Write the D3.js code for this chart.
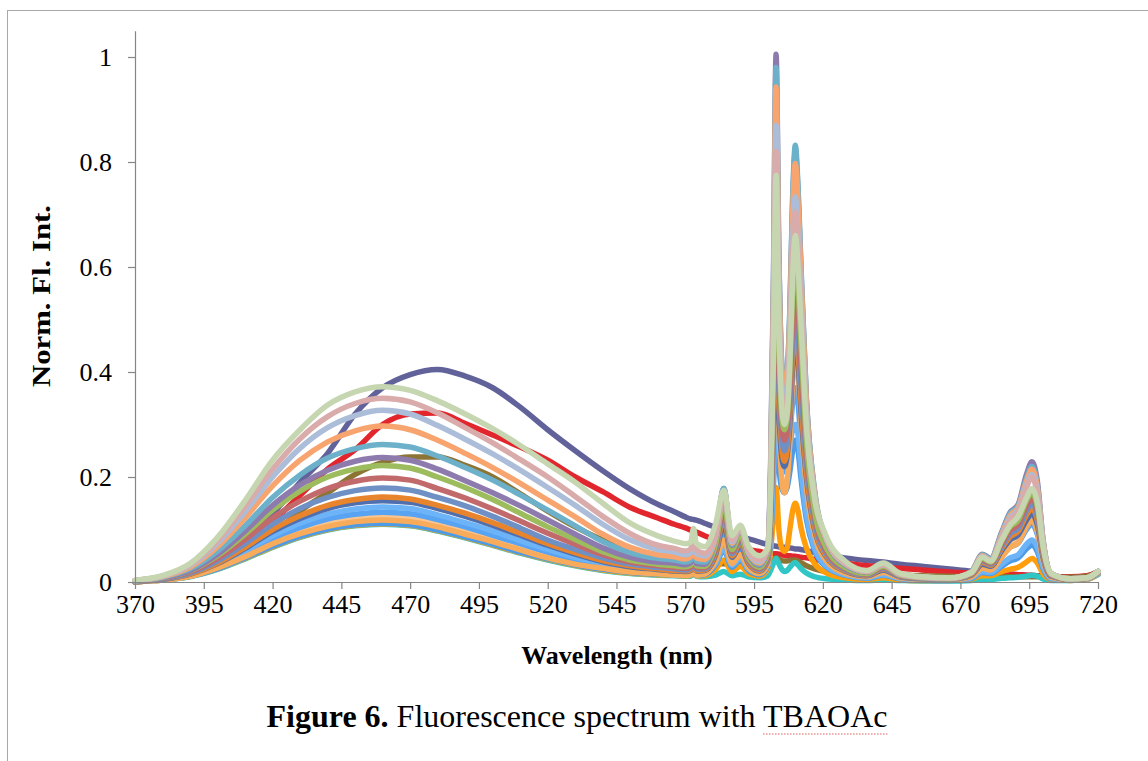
<!DOCTYPE html>
<html><head><meta charset="utf-8">
<script src="https://cdn.jsdelivr.net/npm/d3@7"></script>
<style>
html,body{margin:0;padding:0;background:#fff;}
svg{display:block;}
text{font-family:"Liberation Serif","Times New Roman",serif;fill:#000;}
</style></head>
<body>
<svg id="chart" width="1148" height="761"></svg>
<script>
// ---- data ----
const wavelengths = [370,380,390,400,410,420,430,440,450,460,470,480,490,500,510,520,530,540,550,560,
 566,570,572,573,574,577,581,584,587,590,593,597,600,601,602,603,604,605,606,607,608,609,610,611,612,614,617,621,628,636,642,648,656,666,674,678,681,685,688,691,694,696,698,700,703,710,716,720];

const xTicks = [370,395,420,445,470,495,520,545,570,595,620,645,670,695,720];
const yTicks = [0,0.2,0.4,0.6,0.8,1];

const slate = [0,0.008,0.022,0.045,0.08,0.13,0.19,0.245,0.32,0.37,0.395,0.405,0.392,0.37,0.333,0.29,0.25,0.212,0.177,0.148,
 0.134,0.124,0.12,0.119,0.118,0.112,0.104,0.097,0.09,0.086,0.082,0.076,0.071,0.07,0.069,0.068,0.067,0.066,0.066,0.065,0.065,0.064,0.063,0.063,0.062,0.06,0.056,0.052,0.046,0.041,0.038,0.034,0.03,0.025,0.021,0.02,0.018,0.016,0.015,0.014,0.013,0.012,0.011,0.011,0.01,0.009,0.011,0.02];
const red = [0,0.006,0.018,0.04,0.07,0.115,0.165,0.215,0.252,0.3,0.32,0.322,0.302,0.28,0.257,0.232,0.2,0.172,0.142,0.122,
 0.11,0.103,0.099,0.097,0.095,0.088,0.08,0.075,0.071,0.067,0.062,0.058,0.055,0.055,0.054,0.054,0.053,0.052,0.051,0.05,0.05,0.049,0.049,0.048,0.047,0.046,0.043,0.04,0.036,0.031,0.029,0.026,0.023,0.019,0.017,0.016,0.016,0.015,0.015,0.014,0.013,0.013,0.012,0.012,0.011,0.01,0.012,0.019];
const olive = [0,0.005,0.014,0.03,0.055,0.09,0.135,0.17,0.205,0.228,0.238,0.238,0.222,0.2,0.168,0.135,0.105,0.08,0.06,0.046,
 0.042,0.039,0.038,0.038,0.037,0.036,0.035,0.035,0.034,0.034,0.034,0.033,0.033,0.036,0.042,0.046,0.044,0.041,0.04,0.04,0.041,0.042,0.042,0.04,0.037,0.031,0.025,0.02,0.018,0.016,0.016,0.014,0.012,0.011,0.01,0.01,0.01,0.01,0.01,0.01,0.01,0.01,0.01,0.01,0.009,0.009,0.011,0.018];
const turquoise = [0.001,0.004,0.01,0.024,0.044,0.066,0.085,0.099,0.107,0.11,0.107,0.097,0.084,0.07,0.055,0.042,0.031,0.022,0.016,0.013,
 0.012,0.011,0.011,0.017,0.011,0.01,0.013,0.02,0.012,0.015,0.01,0.008,0.012,0.022,0.035,0.045,0.035,0.025,0.02,0.022,0.028,0.034,0.037,0.032,0.026,0.017,0.01,0.006,0.004,0.003,0.004,0.003,0.002,0.002,0.003,0.005,0.005,0.007,0.008,0.009,0.011,0.013,0.011,0.006,0.003,0.003,0.005,0.014];
const brightOrange = [0.001,0.004,0.011,0.025,0.045,0.067,0.086,0.1,0.108,0.111,0.108,0.098,0.085,0.071,0.056,0.043,0.032,0.023,0.017,0.014,
 0.013,0.012,0.013,0.024,0.012,0.012,0.024,0.042,0.02,0.03,0.016,0.011,0.025,0.06,0.12,0.18,0.1,0.065,0.058,0.065,0.1,0.135,0.15,0.135,0.105,0.065,0.035,0.018,0.008,0.005,0.008,0.004,0.003,0.003,0.006,0.012,0.012,0.02,0.024,0.028,0.038,0.045,0.036,0.016,0.005,0.003,0.005,0.015];
const lowBlue = [0.001,0.004,0.011,0.025,0.046,0.068,0.087,0.101,0.109,0.112,0.109,0.099,0.086,0.072,0.057,0.044,0.033,0.024,0.018,0.015,
 0.014,0.013,0.014,0.032,0.013,0.014,0.032,0.06,0.028,0.042,0.022,0.014,0.03,0.08,0.18,0.3,0.22,0.18,0.17,0.18,0.21,0.25,0.27,0.25,0.2,0.12,0.06,0.03,0.013,0.007,0.013,0.006,0.004,0.003,0.007,0.018,0.016,0.03,0.04,0.046,0.063,0.07,0.057,0.026,0.006,0.004,0.006,0.016];
const peach = [0.001,0.004,0.012,0.028,0.051,0.076,0.097,0.112,0.12,0.124,0.121,0.11,0.096,0.081,0.064,0.048,0.036,0.027,0.02,0.016,
 0.014,0.013,0.015,0.05,0.014,0.016,0.05,0.1,0.044,0.066,0.032,0.018,0.04,0.12,0.3,0.55,0.4,0.34,0.33,0.35,0.41,0.47,0.5,0.46,0.36,0.2,0.1,0.048,0.02,0.011,0.021,0.009,0.006,0.004,0.012,0.032,0.028,0.056,0.075,0.085,0.115,0.13,0.105,0.046,0.01,0.004,0.006,0.017];
const blue = [0.001,0.005,0.013,0.03,0.055,0.082,0.104,0.12,0.129,0.133,0.13,0.119,0.105,0.089,0.073,0.057,0.043,0.032,0.024,0.019,
 0.017,0.016,0.018,0.045,0.017,0.019,0.045,0.09,0.04,0.06,0.03,0.018,0.037,0.1,0.24,0.4,0.29,0.23,0.21,0.22,0.28,0.34,0.37,0.34,0.27,0.16,0.08,0.04,0.017,0.01,0.019,0.008,0.005,0.004,0.011,0.028,0.025,0.05,0.066,0.074,0.1,0.11,0.09,0.04,0.009,0.004,0.006,0.017];
const lightBlue = [0.001,0.005,0.014,0.032,0.059,0.088,0.112,0.129,0.139,0.143,0.14,0.128,0.113,0.097,0.079,0.062,0.047,0.035,0.026,0.021,
 0.019,0.018,0.019,0.035,0.018,0.02,0.035,0.065,0.032,0.045,0.025,0.018,0.032,0.09,0.2,0.34,0.28,0.24,0.23,0.235,0.26,0.29,0.3,0.28,0.22,0.13,0.065,0.032,0.014,0.008,0.014,0.007,0.004,0.003,0.008,0.02,0.018,0.034,0.046,0.052,0.072,0.08,0.065,0.03,0.007,0.004,0.006,0.016];
const tan = [0.001,0.004,0.011,0.027,0.048,0.073,0.092,0.106,0.115,0.118,0.115,0.105,0.091,0.077,0.061,0.046,0.034,0.026,0.019,0.016,
 0.014,0.013,0.014,0.04,0.013,0.015,0.04,0.08,0.035,0.052,0.027,0.016,0.035,0.11,0.28,0.5,0.3,0.2,0.17,0.19,0.27,0.38,0.44,0.4,0.31,0.18,0.09,0.042,0.017,0.01,0.018,0.008,0.005,0.004,0.01,0.026,0.023,0.047,0.066,0.075,0.105,0.118,0.095,0.042,0.009,0.004,0.006,0.017];
const darkBlue = [0.001,0.005,0.015,0.035,0.064,0.096,0.121,0.14,0.151,0.155,0.152,0.14,0.125,0.108,0.089,0.07,0.053,0.039,0.029,0.024,
 0.021,0.02,0.022,0.055,0.021,0.022,0.052,0.11,0.047,0.07,0.035,0.021,0.042,0.12,0.28,0.5,0.33,0.24,0.22,0.24,0.3,0.41,0.46,0.42,0.33,0.2,0.1,0.05,0.021,0.012,0.023,0.01,0.006,0.005,0.013,0.034,0.03,0.06,0.08,0.09,0.118,0.13,0.108,0.048,0.011,0.005,0.007,0.018];
const orange = [0.001,0.006,0.015,0.036,0.066,0.1,0.126,0.146,0.157,0.162,0.158,0.146,0.131,0.113,0.093,0.073,0.056,0.041,0.031,0.025,
 0.022,0.021,0.023,0.06,0.022,0.023,0.056,0.12,0.05,0.075,0.037,0.022,0.044,0.13,0.31,0.55,0.36,0.26,0.23,0.25,0.32,0.43,0.48,0.44,0.35,0.21,0.105,0.052,0.022,0.013,0.025,0.011,0.007,0.005,0.014,0.037,0.032,0.064,0.086,0.097,0.127,0.14,0.117,0.052,0.012,0.005,0.007,0.018];
const steelBlue = [0.002,0.006,0.017,0.04,0.073,0.11,0.14,0.161,0.174,0.179,0.175,0.161,0.145,0.125,0.103,0.08,0.062,0.046,0.034,0.028,
 0.025,0.023,0.026,0.065,0.025,0.025,0.061,0.13,0.054,0.08,0.04,0.024,0.047,0.14,0.34,0.6,0.39,0.28,0.25,0.27,0.34,0.46,0.52,0.47,0.38,0.23,0.115,0.057,0.024,0.014,0.026,0.011,0.007,0.005,0.015,0.04,0.034,0.068,0.092,0.103,0.136,0.15,0.125,0.056,0.012,0.005,0.007,0.018];
const rosy = [0.002,0.007,0.019,0.045,0.081,0.122,0.154,0.178,0.192,0.198,0.194,0.178,0.16,0.139,0.116,0.093,0.072,0.052,0.038,0.031,
 0.028,0.026,0.029,0.07,0.028,0.027,0.066,0.14,0.058,0.085,0.042,0.026,0.05,0.15,0.37,0.66,0.42,0.3,0.27,0.29,0.37,0.5,0.57,0.52,0.42,0.25,0.125,0.062,0.026,0.015,0.028,0.012,0.008,0.006,0.016,0.042,0.036,0.073,0.098,0.11,0.145,0.16,0.134,0.06,0.013,0.005,0.007,0.019];
const green = [0.002,0.008,0.021,0.05,0.091,0.137,0.173,0.2,0.215,0.222,0.217,0.2,0.18,0.157,0.131,0.105,0.081,0.058,0.042,0.034,
 0.031,0.029,0.032,0.075,0.031,0.03,0.072,0.15,0.062,0.09,0.045,0.028,0.055,0.16,0.41,0.72,0.46,0.32,0.29,0.31,0.4,0.55,0.62,0.56,0.46,0.27,0.135,0.068,0.028,0.016,0.03,0.013,0.008,0.006,0.017,0.045,0.038,0.078,0.105,0.118,0.155,0.17,0.142,0.065,0.014,0.005,0.007,0.019];
const purple = [0.002,0.008,0.022,0.053,0.097,0.146,0.185,0.213,0.23,0.237,0.232,0.215,0.193,0.17,0.145,0.118,0.091,0.065,0.047,0.038,
 0.036,0.033,0.037,0.085,0.035,0.034,0.085,0.178,0.07,0.105,0.052,0.032,0.065,0.22,0.56,1.005,0.63,0.42,0.37,0.39,0.51,0.72,0.82,0.74,0.6,0.35,0.17,0.083,0.033,0.019,0.034,0.015,0.009,0.007,0.02,0.053,0.045,0.095,0.132,0.148,0.205,0.229,0.19,0.082,0.016,0.006,0.008,0.02];
const teal = [0.002,0.009,0.025,0.059,0.107,0.161,0.204,0.236,0.254,0.262,0.257,0.24,0.218,0.194,0.166,0.137,0.107,0.077,0.056,0.045,
 0.042,0.038,0.042,0.088,0.04,0.038,0.085,0.178,0.072,0.106,0.054,0.034,0.065,0.21,0.54,0.98,0.62,0.42,0.38,0.4,0.52,0.73,0.832,0.75,0.61,0.35,0.175,0.085,0.034,0.02,0.034,0.015,0.009,0.007,0.02,0.052,0.044,0.093,0.13,0.145,0.197,0.22,0.182,0.08,0.016,0.006,0.008,0.02];
const lightOrange = [0.003,0.01,0.028,0.067,0.122,0.183,0.232,0.267,0.288,0.297,0.29,0.27,0.245,0.218,0.188,0.156,0.124,0.091,0.066,0.052,
 0.048,0.044,0.048,0.088,0.046,0.043,0.085,0.172,0.074,0.104,0.055,0.036,0.065,0.2,0.52,0.943,0.6,0.41,0.37,0.39,0.5,0.7,0.797,0.72,0.59,0.34,0.17,0.085,0.035,0.02,0.033,0.015,0.009,0.007,0.019,0.05,0.042,0.09,0.126,0.142,0.192,0.215,0.178,0.078,0.016,0.006,0.008,0.02];
const lightSteel = [0.003,0.011,0.031,0.074,0.134,0.2,0.255,0.294,0.317,0.327,0.32,0.298,0.272,0.244,0.213,0.18,0.146,0.11,0.08,0.062,
 0.057,0.052,0.056,0.09,0.054,0.05,0.088,0.17,0.077,0.103,0.057,0.039,0.065,0.19,0.48,0.87,0.55,0.38,0.34,0.36,0.47,0.65,0.734,0.66,0.55,0.32,0.165,0.085,0.035,0.02,0.033,0.015,0.009,0.007,0.018,0.048,0.041,0.087,0.122,0.138,0.185,0.205,0.17,0.075,0.016,0.006,0.008,0.02];
const pink = [0.003,0.011,0.033,0.079,0.144,0.215,0.273,0.315,0.34,0.35,0.343,0.322,0.294,0.265,0.233,0.2,0.163,0.125,0.092,0.07,
 0.064,0.059,0.063,0.095,0.061,0.055,0.09,0.172,0.08,0.105,0.06,0.042,0.065,0.18,0.46,0.82,0.52,0.36,0.32,0.34,0.45,0.62,0.705,0.64,0.53,0.31,0.16,0.085,0.036,0.02,0.034,0.015,0.009,0.007,0.018,0.048,0.041,0.085,0.118,0.135,0.18,0.2,0.165,0.075,0.016,0.006,0.008,0.02];
const sage = [0.003,0.012,0.035,0.085,0.155,0.232,0.29,0.337,0.362,0.372,0.365,0.345,0.32,0.292,0.26,0.225,0.19,0.15,0.112,0.088,
 0.078,0.073,0.076,0.102,0.074,0.067,0.11,0.175,0.088,0.108,0.068,0.05,0.065,0.17,0.42,0.775,0.5,0.34,0.3,0.32,0.42,0.58,0.66,0.6,0.5,0.3,0.16,0.09,0.04,0.022,0.036,0.017,0.01,0.008,0.018,0.047,0.04,0.08,0.108,0.125,0.16,0.178,0.15,0.07,0.016,0.006,0.008,0.02];

// draw order (first = bottom)
const seriesList = [slate, red, olive, turquoise, brightOrange, lowBlue, peach, blue, lightBlue, tan,
  darkBlue, orange, steelBlue, rosy, green, purple, teal, lightOrange, lightSteel, pink, sage];
const seriesColors = ["#62629b","#e1262d","#8c7435","#30c6c6","#ff9d0a","#4d9be6","#fbc590","#58a3f2","#6cb3f7","#f8ab5a",
  "#4f6faf","#e8842c","#6e90c5","#c2696c","#9cbc5e","#8e7bae","#6cb1c9","#f7a46f","#acbdd9","#d9abaa","#c5d6b1"];

// ---- drawing ----
const svg = d3.select("#chart");
const x = d3.scaleLinear().domain([370,720]).range([135,1098]);
const y = d3.scaleLinear().domain([0,1.05]).range([582,30.75]);

// outer frame (left + top edges visible)
svg.append("line").attr("x1",7.5).attr("y1",10.5).attr("x2",7.5).attr("y2",761).attr("stroke","#a8a8a8").attr("stroke-width",1);
svg.append("line").attr("x1",7).attr("y1",10.5).attr("x2",1148).attr("y2",10.5).attr("stroke","#a8a8a8").attr("stroke-width",1);

const line = d3.line().x(d=>x(d[0])).y(d=>y(d[1])).curve(d3.curveMonotoneX);
const plot = svg.append("g");
seriesList.forEach((vals,i)=>{
  const pts = wavelengths.map((w,k)=>[w, vals[k]]).filter(p=>p[1]!==undefined);
  plot.append("path").datum(pts).attr("d",line)
    .attr("fill","none").attr("stroke",seriesColors[i])
    .attr("stroke-width",5.5).attr("stroke-linejoin","round").attr("stroke-linecap","round");
});

// axes
const axisColor = "#868686";
const xAxis = svg.append("g").attr("transform","translate(0,582)")
  .call(d3.axisBottom(x).tickValues(xTicks).tickSize(7).tickSizeOuter(0).tickFormat(d3.format("d")));
const yAxis = svg.append("g").attr("transform","translate(135,0)")
  .call(d3.axisLeft(y).tickValues(yTicks).tickSize(7).tickSizeOuter(0).tickFormat(d=>d===0?"0":d===1?"1":d3.format(".1f")(d)));
[xAxis,yAxis].forEach(a=>{
  a.select(".domain").attr("stroke",axisColor).attr("stroke-width",1.2);
  a.selectAll(".tick line").attr("stroke",axisColor).attr("stroke-width",1.2);
  a.selectAll("text").attr("fill","#000").style("font-family","'Liberation Serif','Times New Roman',serif").style("font-size","26px");
});
xAxis.selectAll("text").attr("y",13).attr("dy","0.71em");
yAxis.selectAll("text").attr("x",-23).attr("dy","0.34em");

// titles
svg.append("text").attr("x",617).attr("y",664).attr("text-anchor","middle")
  .style("font-size","26px").style("font-weight","bold").text("Wavelength (nm)");
svg.append("text").attr("transform","translate(50,296) rotate(-90)").attr("text-anchor","middle")
  .attr("textLength",182).attr("lengthAdjust","spacingAndGlyphs")
  .style("font-size","26px").style("font-weight","bold").text("Norm. Fl. Int.");

// caption
const cap = svg.append("text").attr("x",577).attr("y",727).attr("text-anchor","middle").style("font-size","32px");
cap.append("tspan").style("font-weight","bold").text("Figure 6.");
cap.append("tspan").text(" Fluorescence spectrum with ");
cap.append("tspan").attr("id","tb").text("TBAOAc");
// spell-check style dotted underline under TBAOAc
const tbNode = document.getElementById("tb");
let ext = [760,887];
try { const n=tbNode.getNumberOfChars(); const a=tbNode.getExtentOfChar(0), b=tbNode.getExtentOfChar(n-1); ext=[a.x, b.x+b.width]; } catch(e) {}
svg.append("line").attr("x1",ext[0]).attr("x2",ext[1]).attr("y1",734).attr("y2",734)
  .attr("stroke","#e06060").attr("stroke-width",1.2).attr("stroke-dasharray","1.5,1.5");
</script>
</body></html>
